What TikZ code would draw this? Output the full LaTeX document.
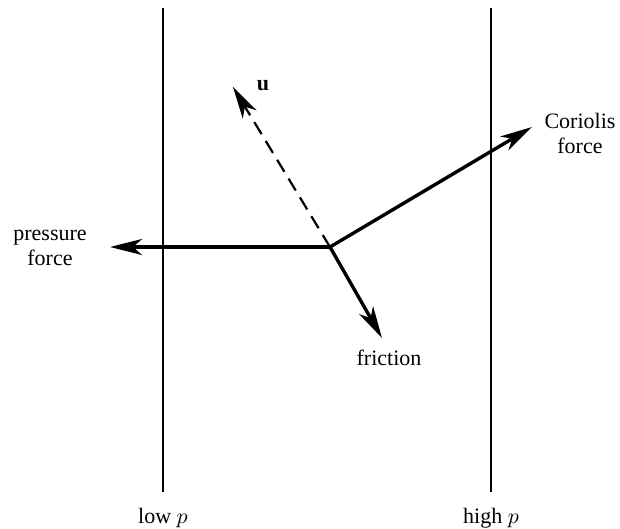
\documentclass[tikz,border=0pt]{standalone}
\usepackage{fontspec}
\setmainfont{Liberation Serif}
\usetikzlibrary{arrows.meta}

\begin{document}
\begin{tikzpicture}[
    x=0.5pt, y=-0.5pt,
    every node/.style={font=\fontsize{11}{12.5}\selectfont, align=center},
    >={Stealth[length=16pt, width=8pt, inset=4.5pt]},
    force/.style={line width=1.7pt, ->},
    wall/.style={line width=0.8pt}
]

% --- Frame ---
\useasboundingbox (0,0) rectangle (620,529);

% --- Isobars (low and high pressure) ---
\coordinate (lowtop) at (163,8);
\coordinate (lowbot) at (163,492);
\coordinate (hightop) at (491,8);
\coordinate (highbot) at (491,492);
\draw[wall] (lowtop) -- (lowbot);
\draw[wall] (hightop) -- (highbot);
\node (lowp) at (163,518) {low $p$};
\node (highp) at (491,518) {high $p$};

% --- Force balance at the parcel ---
\coordinate (parcel) at (330,247);
\coordinate (ptip) at (110,247);
\coordinate (ctip) at (532,127);
\coordinate (ftip) at (382,338);
\coordinate (utip) at (233,87);

\draw[line width=1.1pt, dashed, dash pattern=on 7pt off 4pt, ->] (parcel) -- (utip);
\draw[force] (parcel) -- (ptip);
\draw[force] (parcel) -- (ctip);
\draw[force] (parcel) -- (ftip);

% --- Labels ---
\node (ulabel) at (263,86) {\textbf{u}};
\node (pressure) at (50,248) {pressure\\force};
\node (coriolis) at (580,133) {Coriolis\\force};
\node (friction) at (389,358) {friction};

\end{tikzpicture}
\end{document}
